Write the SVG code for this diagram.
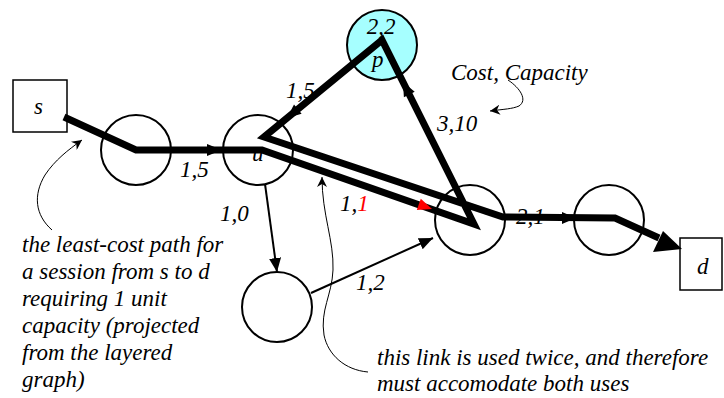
<svg xmlns="http://www.w3.org/2000/svg" width="724" height="398" viewBox="0 0 724 398">
<style>
.t{font-family:'Liberation Serif','Times New Roman',Times,'DejaVu Serif',serif;font-style:italic;font-size:23px;fill:#000}
.node{fill:#fff;stroke:#000;stroke-width:2}
.box{fill:#fff;stroke:#000;stroke-width:1.5}
.thick{fill:none;stroke:#000;stroke-width:7;stroke-linejoin:miter;stroke-miterlimit:6}
.thin{fill:none;stroke:#000;stroke-width:2}
.note{fill:none;stroke:#000;stroke-width:1}
</style>
<defs>
<marker id="ah" markerUnits="userSpaceOnUse" markerWidth="16" markerHeight="12" refX="14" refY="6" orient="auto">
<path d="M0,0 L14,6 L0,12 Z" fill="#000"/>
</marker>
<marker id="sah" markerUnits="userSpaceOnUse" markerWidth="12" markerHeight="10" refX="10" refY="5" orient="auto">
<path d="M0,0 L10,5 L0,10 L3,5 Z" fill="#000"/>
</marker>
</defs>
<rect width="724" height="398" fill="#fff"/>
<g id="node-s"><rect class="box" x="13" y="80" width="54" height="52"/><text class="t" x="34" y="114">s</text></g>
<g id="node-a"><circle class="node" cx="136" cy="150" r="35"/></g>
<g id="node-u"><circle class="node" cx="258" cy="150" r="35"/><text class="t" x="252" y="161">u</text></g>
<g id="node-p"><circle cx="382" cy="45" r="35" fill="#A6FFFF" stroke="#000" stroke-width="2"/><text class="t" x="381" y="34" text-anchor="middle">2,2</text><text class="t" x="372" y="67">p</text></g>
<g id="node-b"><circle class="node" cx="277" cy="307" r="35"/></g>
<g id="node-x"><circle class="node" cx="470" cy="220" r="35"/></g>
<g id="node-c"><circle class="node" cx="609" cy="220" r="35"/></g>
<g id="node-d"><rect class="box" x="680" y="238" width="42" height="52"/><text class="t" x="697" y="274">d</text></g>
<g id="labels">
<text class="t" x="180" y="177">1,5</text>
<text class="t" x="286" y="98">1,5</text>
<text class="t" x="220" y="221">1,0</text>
<text class="t" x="340" y="211">1,<tspan fill="#ff0000">1</tspan></text>
<text class="t" x="356" y="290">1,2</text>
<text class="t" x="516" y="224">2,1</text>
<text class="t" x="437" y="131">3,10</text>
<text class="t" x="451" y="80">Cost, Capacity</text>
</g>
<g id="connectors">
<path class="thick" d="M64,117 L136,150 L262,150 L474,224 L382,40 L264,137 L503,217 L615,218 L659,238"/>
<polygon points="207,144 222,150 207,156" fill="#000"/>
<polygon points="287,118 301.6,113.7 294,104.5" fill="#000"/>
<polygon points="403,82 414.7,91.8 403.9,97.2" fill="#000"/>
<polygon points="432,209 416.8,210.1 420.8,198.7" fill="#ff0000"/>
<polygon points="576,218 562,212 562,224" fill="#000"/>
<polygon points="682,249 653,252 663,231" fill="#000"/>
<line class="thin" x1="265" y1="184" x2="277" y2="272" marker-end="url(#ah)"/>
<line class="thin" x1="311" y1="293" x2="433" y2="238" marker-end="url(#ah)"/>
<path class="note" d="M52,230 C35,215 33,195 45,175 C55,160 68,150 82,140" marker-end="url(#sah)"/>
<path class="note" d="M368,372 C345,370 328,355 324,335 C320,310 332,295 333,270 C334,240 322,215 322,177" marker-end="url(#sah)"/>
<path class="note" d="M508,80 C520,88 528,100 519,106 C512,109 505,109 490,111" marker-end="url(#sah)"/>
</g>
<g id="notes">
<text class="t" x="22" y="252">the least-cost path for</text>
<text class="t" x="22" y="279">a session from s to d</text>
<text class="t" x="22" y="306">requiring 1 unit</text>
<text class="t" x="22" y="333">capacity (projected</text>
<text class="t" x="22" y="360">from the layered</text>
<text class="t" x="22" y="387">graph)</text>
<text class="t" x="377" y="365">this link is used twice, and therefore</text>
<text class="t" x="377" y="391">must accomodate both uses</text>
</g>
</svg>
